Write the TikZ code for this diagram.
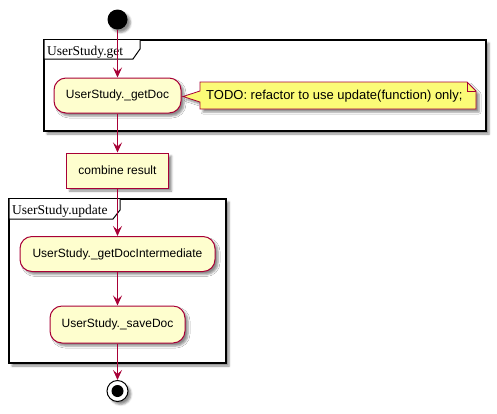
\documentclass[tikz,border=0pt]{standalone}
\usepackage{fontspec}
\setmainfont{Liberation Sans}
\newfontfamily\pkgfont{Liberation Serif}
\usetikzlibrary{arrows.meta,shadows,shadows.blur}
\definecolor{pborder}{HTML}{A80036}
\definecolor{pfill}{HTML}{FEFECE}
\definecolor{pnote}{HTML}{FBFB77}
\tikzset{
  shad/.style={blur shadow={shadow xshift=3pt,shadow yshift=-3pt,shadow blur radius=2pt,shadow opacity=45}},
  act/.style={draw=pborder, fill=pfill, line width=1pt, rounded corners=12pt,
    minimum height=35pt, inner sep=0pt, font=\fontsize{12}{14}\selectfont, shad},
  plainact/.style={act, rounded corners=0pt},
  frame/.style={draw=black, fill=white, line width=1.5pt, inner sep=0pt, shad},
  tab/.style={draw=black, fill=white, line width=1pt},
  pkglabel/.style={font=\pkgfont\fontsize{13.5}{15}\selectfont, inner sep=0pt, anchor=base west},
  notebox/.style={draw=pborder, fill=pnote, line width=0.8pt, shad},
  notetext/.style={font=\fontsize{13}{15}\selectfont, inner sep=0pt, anchor=west},
  flow/.style={draw=pborder, line width=1pt, -{Stealth[length=10pt,width=9pt,inset=4pt]}},
}
\begin{document}
\begin{tikzpicture}[x=1pt,y=-1pt]
\useasboundingbox (0,0) rectangle (497,413);
% package UserStudy.get
\node[frame, minimum width=442pt, minimum height=91pt] (pget) at (265,85.5) {};
\draw[tab] (44,40) -- (44,59) -- (133,59) -- (140,49) -- (140,40);
\node[pkglabel] (lget) at (47,55.5) {UserStudy.get};
% package UserStudy.update
\node[frame, minimum width=217pt, minimum height=164pt] (pupd) at (117.5,281) {};
\draw[tab] (9,199) -- (9,219) -- (113,219) -- (120,210) -- (120,199);
\node[pkglabel] (lupd) at (12,214.5) {UserStudy.update};
% nodes
\node[circle, fill=black, minimum size=20pt, inner sep=0pt, shad] (start) at (117.5,19.5) {};
\node[act, minimum width=127pt] (getdoc) at (117.5,95.5) {UserStudy.\_getDoc};
\draw[notebox] (200,82) -- (467,82) -- (476,91) -- (476,109) -- (200,109) -- (200,102) -- (183,96.5) -- (200,91) -- cycle;
\draw[draw=pborder, line width=0.8pt] (467,82) -- (467,91) -- (476,91);
\node[notetext] (note) at (206,96) {TODO: refactor to use update(function) only;};
\node[plainact, minimum width=102pt] (combine) at (117.5,170.5) {combine result};
\node[act, minimum width=195pt] (inter) at (117.5,254) {UserStudy.\_getDocIntermediate};
\node[act, minimum width=135pt, minimum height=37pt] (save) at (117.5,324.5) {UserStudy.\_saveDoc};
\node[circle, draw=black, fill=white, line width=1pt, minimum size=21pt, inner sep=0pt, shad] (stop) at (117.5,391) {};
\node[circle, fill=black, minimum size=12pt, inner sep=0pt] (stopin) at (stop.center) {};
% flows
\draw[flow] (start) -- (getdoc);
\draw[flow] (getdoc) -- (combine);
\draw[flow] (combine) -- (inter);
\draw[flow] (inter) -- (save);
\draw[flow] (save) -- (stop);
\end{tikzpicture}
\end{document}
